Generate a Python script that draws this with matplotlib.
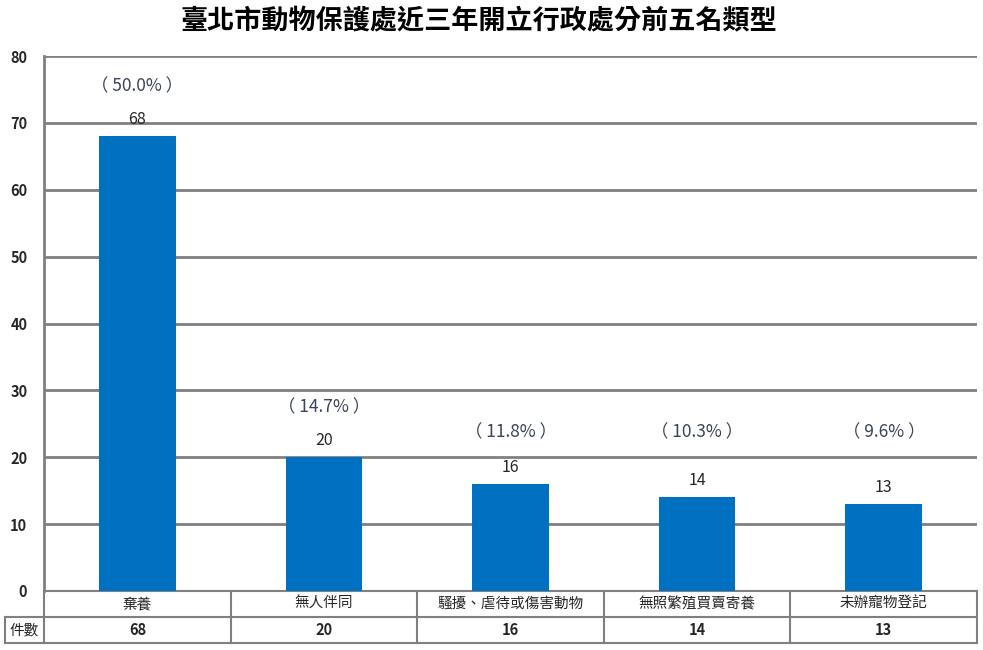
import matplotlib
matplotlib.use("Agg")
import matplotlib.pyplot as plt
import matplotlib.transforms as mtransforms

plt.rcParams['font.family'] = ['Noto Sans CJK TC', 'DejaVu Sans']

title = "臺北市動物保護處近三年開立行政處分前五名類型"
categories = ["棄養", "無人伴同", "騷擾、虐待或傷害動物", "無照繁殖買賣寄養", "未辦寵物登記"]
counts = [68, 20, 16, 14, 13]
shares = ["50.0", "14.7", "11.8", "10.3", "9.6"]
row_label = "件數"
yticks = [0, 10, 20, 30, 40, 50, 60, 70, 80]

grey = "#808080"
blue = "#0070C0"
txt = "#262626"

fig = plt.figure(figsize=(9.83, 6.5), dpi=100)
ax = fig.add_axes([0.0448, 0.0908, 0.9491, 0.823])

x = list(range(len(categories)))
ax.bar(x, counts, width=0.41, color=blue, zorder=3)

for i, (c, s) in enumerate(zip(counts, shares)):
    ax.annotate(str(c), (i, c), xytext=(0, 12), textcoords="offset points",
                ha="center", va="center", fontsize=11.5, color=txt, zorder=4)
    # share labels sit above the bar, but not lower than a common baseline
    ax.text(i, max(c + 7.5, 23.8), "（ " + s + "% ）", ha="center", va="center",
            fontsize=12.5, color="#3A4556", zorder=4)

ax.set_xlim(-0.5, len(categories) - 0.5)
ax.set_ylim(0, 80)
ax.set_yticks(yticks)
ax.set_yticklabels([str(t) for t in yticks], fontsize=10.5, fontweight="bold", color=txt)
ax.tick_params(axis="y", length=0, pad=12)
ax.set_xticks([])
ax.yaxis.grid(True, color=grey, linewidth=2, zorder=0)
ax.set_axisbelow(True)
for side in ["top", "right", "bottom"]:
    ax.spines[side].set_visible(False)
ax.spines["left"].set_color(grey)
ax.spines["left"].set_linewidth(2)

# data table under the plot: x in data units, y in axes fraction
tr = mtransforms.blended_transform_factory(ax.transData, ax.transAxes)
row_h = 26 / 535
lab_left = -0.5 - 39 / 186.6
n = len(categories)
kw = dict(transform=tr, color=grey, linewidth=1.5, clip_on=False)

ax.plot([-0.5, n - 0.5], [0, 0], **kw)
ax.plot([lab_left, n - 0.5], [-row_h, -row_h], **kw)
ax.plot([lab_left, n - 0.5], [-2 * row_h, -2 * row_h], **kw)
for b in range(n + 1):
    ax.plot([b - 0.5, b - 0.5], [0, -2 * row_h], **kw)
ax.plot([lab_left, lab_left], [-row_h, -2 * row_h], **kw)

for i, (cat, c) in enumerate(zip(categories, counts)):
    ax.text(i, -0.5 * row_h, cat, transform=tr, ha="center", va="center",
            fontsize=10.5, color=txt)
    ax.text(i, -1.5 * row_h, str(c), transform=tr, ha="center", va="center",
            fontsize=10.5, fontweight="bold", color=txt)
ax.text((lab_left - 0.5) / 2, -1.5 * row_h, row_label, transform=tr,
        ha="center", va="center", fontsize=10.5, color=txt)

fig.text(0.4875, 0.967, title, ha="center", va="center", fontsize=19.5, fontweight="bold")

fig.savefig("out.png", dpi=100)
